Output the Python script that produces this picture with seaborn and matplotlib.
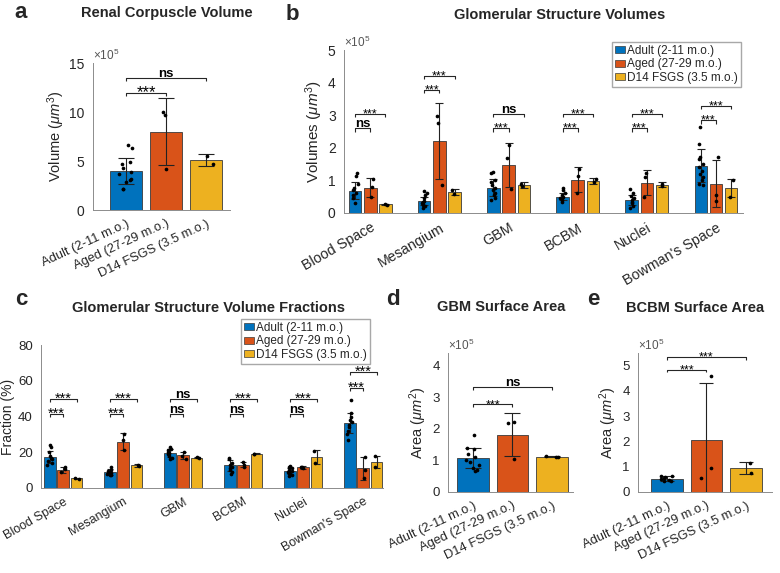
import numpy as np
import pandas as pd
import matplotlib
matplotlib.use("Agg")
import matplotlib.pyplot as plt
from matplotlib.container import BarContainer
import seaborn as sns

groups = ["Adult (2-11 m.o.)", "Aged (27-29 m.o.)", "D14 FSGS (3.5 m.o.)"]
structures = ["Blood Space", "Mesangium", "GBM", "BCBM", "Nuclei", "Bowman's Space"]
palette = ["#0072BD", "#D95319", "#EDB120"]

# a: renal corpuscle volume (x10^5 um^3)
rc_mean = [4.0, 8.0, 5.1]
rc_sd = [1.35, 3.4, 0.65]
rc_pts = [
    [6.6, 6.3, 4.9, 4.7, 4.25, 3.9, 3.7, 3.2, 3.05, 2.9, 2.1, 2.1],
    [10.0, 9.7, 4.15],
    [5.5, 4.65],
]
rc_sig = [("***", 1, 11.9), ("ns", 2, 13.5)]

# b: glomerular structure volumes (x10^5 um^3)
vol_mean = [
    [0.69, 0.37, 0.78, 0.50, 0.40, 1.45],
    [0.78, 2.20, 1.48, 1.02, 0.93, 0.90],
    [0.27, 0.65, 0.87, 0.99, 0.87, 0.76],
]
vol_sd = [
    [0.25, 0.12, 0.26, 0.11, 0.16, 0.50],
    [0.28, 1.16, 0.67, 0.38, 0.38, 0.72],
    [0.02, 0.10, 0.09, 0.09, 0.08, 0.28],
]
vol_pts = [
    [[1.22, 1.12, 0.88, 0.78, 0.72, 0.62, 0.55, 0.47, 0.32],
     [0.66, 0.60, 0.55, 0.45, 0.38, 0.33, 0.30, 0.25, 0.20, 0.15],
     [1.27, 1.22, 1.00, 0.95, 0.85, 0.78, 0.70, 0.60, 0.55, 0.45, 0.40],
     [0.78, 0.70, 0.62, 0.55, 0.50, 0.45, 0.40, 0.35],
     [0.73, 0.60, 0.52, 0.45, 0.40, 0.35, 0.30, 0.22, 0.15],
     [2.65, 2.12, 1.72, 1.65, 1.50, 1.42, 1.30, 1.20, 1.10, 1.00, 0.90, 0.85]],
    [[1.04, 0.80, 0.50], [2.98, 2.76, 0.87], [2.08, 1.68, 0.73],
     [1.35, 1.12, 0.62], [1.22, 1.10, 0.50], [1.72, 0.55, 0.38]],
    [[0.27, 0.26], [0.72, 0.58], [0.90, 0.82], [1.03, 0.95], [0.90, 0.82], [1.00, 0.50]],
]
vol_sig = [("ns", 2.6, "***", 3.03), ("***", 3.78, "***", 4.2), ("***", 2.6, "ns", 3.03),
           ("***", 2.6, "***", 3.03), ("***", 2.6, "***", 3.03), ("***", 2.84, "***", 3.29)]

# c: volume fractions (%)
frac_mean = [
    [17.3, 9.0, 19.5, 12.6, 9.5, 36.5],
    [10.2, 26.0, 18.2, 13.0, 11.5, 11.0],
    [5.4, 12.6, 17.0, 19.2, 17.3, 14.5],
]
frac_sd = [
    [3.5, 1.5, 2.3, 3.0, 1.8, 5.7],
    [1.7, 4.7, 1.7, 1.5, 0.7, 6.3],
    [0.4, 0.6, 0.4, 0.3, 3.7, 3.5],
]
frac_pts = [
    [[24, 23, 20, 18, 17, 16, 15, 14, 13],
     [12, 10, 9.5, 9, 8.5, 8, 7.5, 7],
     [23, 22, 21, 20, 19.5, 19, 18, 17, 16],
     [17, 16, 14, 13, 12, 11, 10, 9, 8],
     [12.5, 12, 11, 10, 9.5, 9, 8.5, 8, 7, 6.5],
     [49, 42, 40, 38, 37, 35, 34, 32, 30, 27]],
    [[11.5, 10.5, 8.7], [30, 27, 21], [20, 18, 16.5], [14.5, 13, 11.5], [12, 11.5, 11], [17.5, 10, 5.5]],
    [[5.6, 5.2], [13, 12.3], [17.2, 16.8], [19.3, 19.1], [20.5, 14], [17.7, 11.5]],
]
frac_sig = [("***", 41.4, "***", 49.8), ("***", 41.4, "***", 49.8), ("ns", 41.4, "ns", 49.8),
            ("ns", 41.4, "***", 49.8), ("ns", 41.4, "***", 49.8), ("***", 56, "***", 64.7)]

# d: GBM surface area (x10^5 um^2)
gbm_mean = [1.07, 1.82, 1.12]
gbm_sd = [0.32, 0.67, 0.02]
gbm_pts = [
    [1.82, 1.40, 1.35, 1.20, 1.10, 1.00, 0.95, 0.85, 0.75, 0.70, 0.65],
    [2.22, 2.20, 1.05],
    [1.13, 1.11, 1.12],
]
gbm_sig = [("***", 1, 2.77), ("ns", 2, 3.32)]

# e: BCBM surface area (x10^5 um^2)
bcbm_mean = [0.53, 2.05, 0.95]
bcbm_sd = [0.09, 2.25, 0.25]
bcbm_pts = [
    [0.65, 0.63, 0.60, 0.55, 0.50, 0.48, 0.45, 0.42],
    [4.6, 0.95, 0.55],
    [1.15, 0.77],
]
bcbm_sig = [("***", 1, 4.84), ("***", 2, 5.33)]

sns.set_style("white")
plt.rcParams["font.family"] = ["Liberation Sans", "DejaVu Sans"]
plt.rcParams["mathtext.fontset"] = "custom"
plt.rcParams["mathtext.rm"] = "Liberation Sans"
plt.rcParams["mathtext.it"] = "Liberation Sans:italic"

W, H = 780, 573
fig = plt.figure(figsize=(7.8, 5.73), dpi=100)
rng = np.random.default_rng(7)
tick_col = "#262626"


def add_axes(l, t, r, b):
    return fig.add_axes([l / W, 1 - b / H, (r - l) / W, (b - t) / H])


def draw_bars(ax, df, xcol, order, width, gap, sds, pts, capsize):
    sns.barplot(data=df, x=xcol, y="mean", hue="group", order=order, hue_order=groups,
                palette=palette, saturation=1, width=width, gap=gap, errorbar=None,
                edgecolor="#3a3a3a", linewidth=0.6, legend=False, ax=ax)
    bar_sets = [cont for cont in ax.containers if isinstance(cont, BarContainer)]
    centers = []
    for hi, cont in enumerate(bar_sets):
        row = []
        for ci, bar in enumerate(cont.patches):
            xc = bar.get_x() + bar.get_width() / 2
            row.append(xc)
            ax.errorbar(xc, bar.get_height(), yerr=sds[hi][ci], fmt="none", ecolor="#222222",
                        elinewidth=0.8, capsize=capsize, capthick=0.8, zorder=3)
            p = np.asarray(pts[hi][ci])
            jit = rng.uniform(-0.22, 0.22, len(p)) * bar.get_width()
            ax.scatter(xc + jit, p, s=7, color="black", linewidths=0, zorder=4)
        centers.append(row)
    return centers


def bracket(ax, x1, x2, y, label, drop, star_size):
    ax.plot([x1, x1, x2, x2], [y - drop, y, y, y - drop], color=tick_col, lw=0.8,
            solid_capstyle="butt", zorder=5)
    if label == "ns":
        ax.annotate("ns", xy=((x1 + x2) / 2, y), xytext=(0, 0.6), textcoords="offset points",
                    ha="center", va="baseline", fontsize=9.5, fontweight="bold", color="black")
    else:
        ax.annotate("***", xy=((x1 + x2) / 2, y), xytext=(0, -2.5), textcoords="offset points",
                    ha="center", va="baseline", fontsize=star_size, color="black")


def finish(ax, labels, rot, xsize, ylim, yticks, ylabel, ysize, labsize, xlim, exp=None):
    ax.set_xlim(*xlim)
    ax.set_ylim(*ylim)
    ax.set_yticks(yticks)
    ax.set_xticks(range(len(labels)))
    ax.set_xticklabels(labels, rotation=rot, ha="right", rotation_mode="anchor",
                       fontsize=xsize, color=tick_col)
    ax.tick_params(axis="y", labelsize=ysize, colors=tick_col, length=2.5, width=0.6, direction="out")
    ax.tick_params(axis="x", length=2.5, width=0.6, colors="#888888", pad=3)
    for lab in ax.get_xticklabels():
        lab.set_color(tick_col)
    ax.set_xlabel("")
    ax.set_ylabel(ylabel, fontsize=labsize, color=tick_col, labelpad=2)
    sns.despine(ax=ax)
    for s in ["left", "bottom"]:
        ax.spines[s].set_color("#8c8c8c")
        ax.spines[s].set_linewidth(0.7)
    if exp:
        ax.text(0.0, 1.0, exp, transform=ax.transAxes, ha="left", va="bottom",
                fontsize=8.5, color="#555555")


def legend(ax, x, y):
    handles = [plt.Rectangle((0, 0), 1, 1, facecolor=c, edgecolor="#3a3a3a", linewidth=0.5)
               for c in palette]
    ax.legend(handles, groups, loc="upper right", bbox_to_anchor=(x / W, 1 - y / H),
              bbox_transform=fig.transFigure, frameon=True, fancybox=False, framealpha=1,
              edgecolor="#a8a8a8", fontsize=8.5, handlelength=0.9, handleheight=0.55,
              handletextpad=0.15, borderpad=0.25, labelspacing=0.12, borderaxespad=0)


def single_df(means):
    return pd.DataFrame({"group": groups, "mean": means})


def grouped_df(means):
    rows = []
    for gi, g in enumerate(groups):
        for si, s in enumerate(structures):
            rows.append({"structure": s, "group": g, "mean": means[gi][si]})
    return pd.DataFrame(rows)


# ---- panel a
ax = add_axes(93, 63, 230, 210)
c = draw_bars(ax, single_df(rc_mean), "group", groups, 0.8, 0, [[v] for v in rc_sd],
              [[p] for p in rc_pts], 6)
for lab, j, y in rc_sig:
    bracket(ax, c[0][0], c[j][0], y, lab, 0.3, 12)
finish(ax, groups, 25, 9.3, (0, 15), [0, 5, 10, 15], r"Volume ($\mu m^3$)", 10, 10.5,
       (-0.83, 2.6), r"$\times10^5$")

# ---- panel b
ax = add_axes(344, 50, 743, 213)
c = draw_bars(ax, grouped_df(vol_mean), "structure", structures, 0.66, 0.18, vol_sd, vol_pts, 3)
for si, (l1, y1, l2, y2) in enumerate(vol_sig):
    bracket(ax, c[0][si], c[1][si], y1, l1, 0.1, 9)
    bracket(ax, c[0][si], c[2][si], y2, l2, 0.1, 9)
finish(ax, structures, 30, 10.3, (0, 5), [0, 1, 2, 3, 4, 5], r"Volumes ($\mu m^3$)", 10, 11,
       (-0.38, 5.39), r"$\times10^5$")
legend(ax, 741, 42)

# ---- panel c
ax = add_axes(41, 345, 383, 488)
c = draw_bars(ax, grouped_df(frac_mean), "structure", structures, 0.67, 0.13, frac_sd, frac_pts, 2.5)
for si, (l1, y1, l2, y2) in enumerate(frac_sig):
    bracket(ax, c[0][si], c[1][si], y1, l1, 1.6, 10.5)
    bracket(ax, c[0][si], c[2][si], y2, l2, 1.6, 10.5)
finish(ax, structures, 30, 9, (0, 80), [0, 20, 40, 60, 80], "Fraction (%)", 9.5, 10,
       (-0.37, 5.33))
legend(ax, 370, 319)

# ---- panel d
ax = add_axes(448, 353, 573, 492)
c = draw_bars(ax, single_df(gbm_mean), "group", groups, 0.8, 0, [[v] for v in gbm_sd],
              [[p] for p in gbm_pts], 5.5)
for lab, j, y in gbm_sig:
    bracket(ax, c[0][0], c[j][0], y, lab, 0.09, 9)
finish(ax, groups, 25, 9.3, (0, 4.4), [0, 1, 2, 3, 4], r"Area ($\mu m^2$)", 9.5, 10.5,
       (-0.63, 2.53), r"$\times10^5$")

# ---- panel e
ax = add_axes(638, 353, 772, 492)
c = draw_bars(ax, single_df(bcbm_mean), "group", groups, 0.8, 0, [[v] for v in bcbm_sd],
              [[p] for p in bcbm_pts], 5)
for lab, j, y in bcbm_sig:
    bracket(ax, c[0][0], c[j][0], y, lab, 0.11, 9)
finish(ax, groups, 25, 9.3, (0, 5.5), [0, 1, 2, 3, 4, 5], r"Area ($\mu m^2$)", 9.5, 10.5,
       (-0.73, 2.66), r"$\times10^5$")

# titles and panel letters
titles = [("Renal Corpuscle Volume", 167, 17), ("Glomerular Structure Volumes", 560, 19),
          ("Glomerular Structure Volume Fractions", 208, 312), ("GBM Surface Area", 501, 311),
          ("BCBM Surface Area", 695, 312)]
for t, x, y in titles:
    fig.text(x / W, 1 - y / H, t, ha="center", va="baseline", fontsize=10.5, fontweight="bold")
letters = [("a", 21, 18), ("b", 292, 20), ("c", 21, 305), ("d", 393, 305), ("e", 593, 305)]
for t, x, y in letters:
    fig.text(x / W, 1 - y / H, t, ha="center", va="baseline", fontsize=16, fontweight="bold")

fig.savefig("out.png", dpi=100)
